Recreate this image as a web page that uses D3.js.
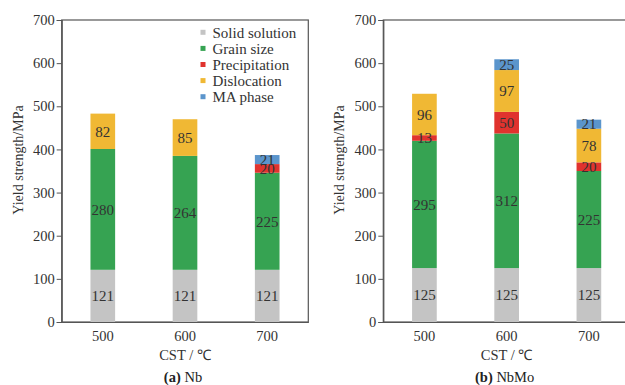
<!DOCTYPE html>
<html>
<head>
<meta charset="utf-8">
<script src="https://cdn.jsdelivr.net/npm/d3@7"></script>
<style>
  body { margin: 0; background: #fff; }
  svg { display: block; font-family: "Liberation Serif", "Times New Roman", serif; }
</style>
</head>
<body>
<div id="holder"></div>
<script>
const w = 625;
const h = 385;

// DATA
const categories = ["500", "600", "700"];
const seriesNames = ["Solid solution", "Grain size", "Precipitation", "Dislocation", "MA phase"];
const colors = ["#c4c4c4", "#36a352", "#e0332e", "#f0b834", "#5b95cc"];
const yTicks = [0, 100, 200, 300, 400, 500, 600, 700];

// Nb steel
const nbSolid = [121, 121, 121];
const nbGrain = [280, 264, 225];
const nbPrecip = [0, 0, 20];
const nbDisloc = [82, 85, 0];
const nbMA = [0, 0, 21];

// NbMo steel
const nbmoSolid = [125, 125, 125];
const nbmoGrain = [295, 312, 225];
const nbmoPrecip = [13, 50, 20];
const nbmoDisloc = [96, 97, 78];
const nbmoMA = [0, 25, 21];

const svg = d3.select("#holder")
    .append("svg")
    .attr("width", w)
    .attr("height", h);

function drawPanel(opts) {
    const left = opts.left, right = opts.right, top = 20, bottom = 322;

    const xScale = d3.scaleBand()
        .domain(categories)
        .range([left, right])
        .paddingInner(0.7)
        .paddingOuter(0.35);

    const yScale = d3.scaleLinear()
        .domain([0, 700])
        .range([bottom, top]);

    // build rows for d3.stack
    const rows = categories.map((c, i) => {
        const r = { cat: c };
        seriesNames.forEach((s, k) => r[s] = opts.series[k][i]);
        return r;
    });
    const stacked = d3.stack().keys(seriesNames)(rows);

    // FRAME
    svg.append("rect")
        .attr("x", left)
        .attr("y", top)
        .attr("width", right - left)
        .attr("height", bottom - top)
        .attr("fill", "none")
        .attr("stroke", "#555")
        .attr("stroke-width", 1.2);

    // BARS
    const layers = svg.append("g").selectAll("g")
        .data(stacked)
        .enter()
        .append("g")
        .attr("fill", (d, k) => colors[k]);

    layers.selectAll("rect")
        .data(d => d.filter(p => p[1] - p[0] > 0))
        .enter()
        .append("rect")
        .attr("x", d => xScale(d.data.cat))
        .attr("y", d => yScale(d[1]))
        .attr("width", xScale.bandwidth())
        .attr("height", d => yScale(d[0]) - yScale(d[1]));

    // VALUE LABELS
    stacked.forEach(layer => {
        svg.append("g").selectAll("text")
            .data(layer.filter(p => p[1] - p[0] > 0))
            .enter()
            .append("text")
            .attr("x", d => xScale(d.data.cat) + xScale.bandwidth() / 2)
            .attr("y", d => yScale((d[0] + d[1]) / 2))
            .attr("dy", "0.35em")
            .attr("text-anchor", "middle")
            .style("font-size", "15px")
            .style("fill", "#333")
            .text(d => d[1] - d[0]);
    });

    // Y AXIS
    const yAxis = d3.axisLeft(yScale).tickValues(yTicks).tickSize(5).tickPadding(2);
    const gy = svg.append("g")
        .attr("transform", "translate(" + left + ",0)")
        .call(yAxis);
    gy.select(".domain").attr("stroke", "#555").attr("stroke-width", 1.2);
    gy.selectAll(".tick line").attr("stroke", "#555");
    gy.selectAll("text").style("font-size", "14.5px").style("fill", "#333")
        .style("font-family", "Liberation Serif");

    // X AXIS
    const xAxis = d3.axisBottom(xScale).tickSize(0).tickPadding(9);
    const gx = svg.append("g")
        .attr("transform", "translate(0," + bottom + ")")
        .call(xAxis);
    gx.select(".domain").attr("stroke", "#555").attr("stroke-width", 1.2);
    gx.selectAll("text").style("font-size", "14.5px").style("fill", "#333")
        .style("font-family", "Liberation Serif");

    const cx = xScale("600") + xScale.bandwidth() / 2;

    // AXIS TITLES
    svg.append("text")
        .attr("transform", "translate(" + (left - 39) + "," + 160 + ") rotate(-90)")
        .attr("text-anchor", "middle")
        .style("font-size", "14px")
        .style("fill", "#333")
        .text("Yield strength/MPa");

    svg.append("text")
        .attr("x", cx)
        .attr("y", 360)
        .attr("text-anchor", "middle")
        .style("font-size", "14.5px")
        .style("fill", "#333")
        .text("CST / ℃");

    const cap = svg.append("text")
        .attr("x", cx - 2)
        .attr("y", 382)
        .attr("text-anchor", "middle")
        .style("font-size", "14.5px")
        .style("fill", "#222");
    cap.append("tspan").style("font-weight", "bold").text(opts.tag);
    cap.append("tspan").text(" " + opts.name);

    return { xScale, yScale };
}

drawPanel({
    left: 61.7, right: 308.3, tag: "(a)", name: "Nb",
    series: [nbSolid, nbGrain, nbPrecip, nbDisloc, nbMA]
});

drawPanel({
    left: 383.3, right: 630, tag: "(b)", name: "NbMo",
    series: [nbmoSolid, nbmoGrain, nbmoPrecip, nbmoDisloc, nbmoMA]
});

// LEGEND
const legend = svg.append("g")
    .selectAll("g")
    .data(seriesNames)
    .enter()
    .append("g")
    .attr("transform", (d, i) => "translate(203," + (32.3 + i * 16.1) + ")");

legend.append("rect")
    .attr("x", -2.5)
    .attr("y", -2.5)
    .attr("width", 5)
    .attr("height", 5)
    .attr("fill", (d, i) => colors[i]);

legend.append("text")
    .attr("x", 9.5)
    .attr("dy", "0.35em")
    .style("font-size", "15px")
    .style("fill", "#333")
    .text(d => d);
</script>
</body>
</html>
